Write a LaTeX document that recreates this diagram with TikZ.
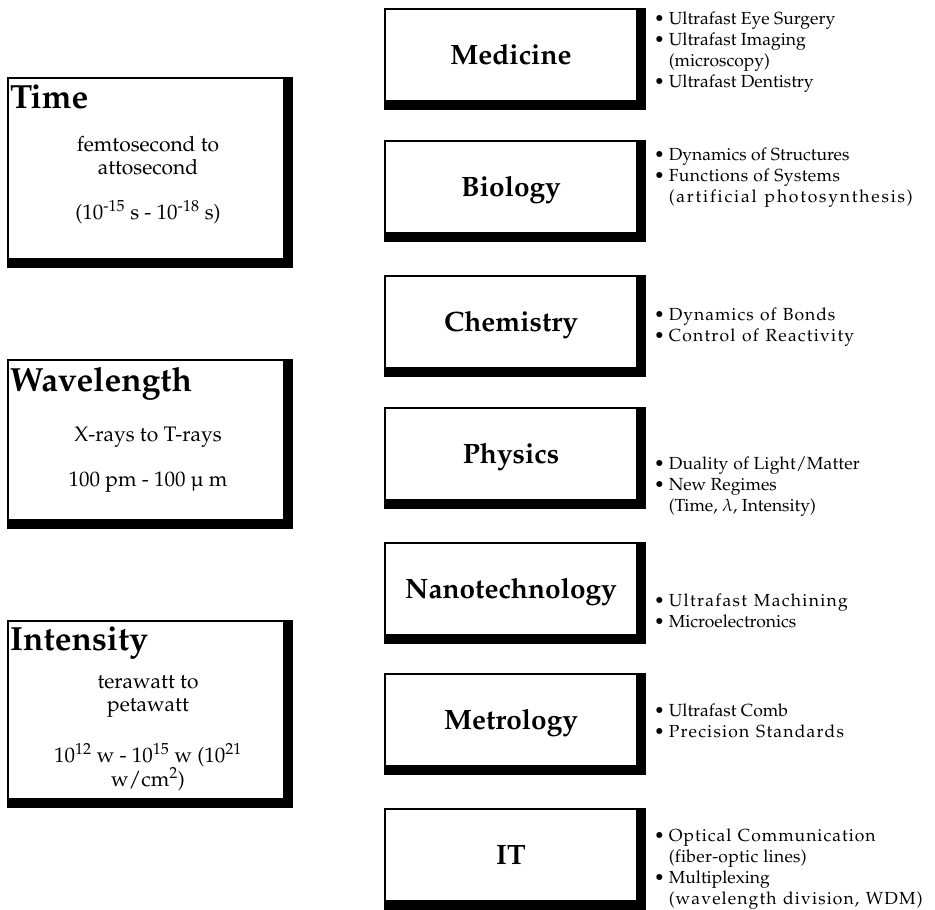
\documentclass[tikz,border=0pt]{standalone}
\usepackage[T1]{fontenc}
\usepackage{mathpazo}
\usetikzlibrary{calc}

\tikzset{
  fieldbox/.style={draw, line width=1.1pt, fill=white, minimum width=252pt,
    minimum height=92pt, inner sep=0pt,
    font=\fontsize{28}{32}\selectfont\bfseries, text height=24pt, text depth=6pt},
  rangebox/.style={draw, line width=1.1pt, fill=white, minimum width=276pt, inner sep=0pt},
  rangehead/.style={anchor=base west, inner sep=0pt, font=\fontsize{33.5}{36}\selectfont\bfseries},
  rangetext/.style={align=center, inner sep=0pt, font=\fontsize{21}{23}\selectfont},
  notes/.style={anchor=base west, inner sep=0pt, font=\fontsize{17.5}{21}\selectfont},
}
% heavy right and bottom edge behind a box
\newcommand\dropshadow[1]{%
  \fill (#1.north east) rectangle ([xshift=8pt,yshift=-8pt]#1.south east);
  \fill (#1.south west) rectangle ([xshift=8pt,yshift=-8pt]#1.south east);}
\newcommand\notelist[1]{\begin{tabular}[t]{@{}l@{\hspace{4pt}}l@{}}#1\end{tabular}}
% letter-spaced text: #1 extra space after each character, ~ marks a word space
\makeatletter
\newcommand\tracked[2]{\@tfor\trk@c:=#2\do{\trk@c\kern#1}\unkern}
\makeatother

\begin{document}
\begin{tikzpicture}[x=1pt,y=-1pt]
\useasboundingbox (0,0) rectangle (935,910);

% ---- left column: time, wavelength, intensity ----
\node[rangebox, minimum height=181pt] (time) at (146,168.5) {};
\dropshadow{time}
\node[rangehead] (timeh) at (10,108) {Time};
\node[rangetext] (timea) at (148,156) {femtosecond to\\attosecond};
\node[rangetext] (timeb) at (148,212) {(10\textsuperscript{-15} s - 10\textsuperscript{-18} s)};

\node[rangebox, minimum height=160pt] (wave) at (146,440) {};
\dropshadow{wave}
\node[rangehead] (waveh) at (10,391) {Wavelength};
\node[rangetext] (wavea) at (148,437) {X-rays to T-rays};
\node[rangetext] (waveb) at (148,482) {100 pm - 100 \textmu\ m};

\node[rangebox, minimum height=178pt] (inten) at (146,710) {};
\dropshadow{inten}
\node[rangehead] (intenh) at (10,650) {Intensity};
\node[rangetext] (intena) at (148,697) {terawatt to\\petawatt};
\node[rangetext] (intenb) at (148,767) {10\textsuperscript{12} w - 10\textsuperscript{15} w (10\textsuperscript{21}\\w/cm\textsuperscript{2})};

% ---- right column: fields of application ----
\node[fieldbox] (med) at (511,55) {Medicine};
\dropshadow{med}
\node[fieldbox] (bio) at (511,187) {Biology};
\dropshadow{bio}
\node[fieldbox] (chem) at (511,322) {Chemistry};
\dropshadow{chem}
\node[fieldbox] (phys) at (511,454) {Physics};
\dropshadow{phys}
\node[fieldbox] (nano) at (511,589) {Nanotechnology};
\dropshadow{nano}
\node[fieldbox] (metro) at (511,720) {Metrology};
\dropshadow{metro}
\node[fieldbox] (it) at (511,855) {IT};
\dropshadow{it}

% ---- notes beside each field ----
\node[notes] (medn) at (654,24) {\notelist{%
  \textbullet & Ultrafast Eye Surgery\\
  \textbullet & Ultrafast Imaging\\
              & (microscopy)\\
  \textbullet & Ultrafast Dentistry}};
\node[notes] (bion) at (654,160) {\notelist{%
  \textbullet & Dynamics of Structures\\
  \textbullet & \tracked{0.4pt}{Functions~of~Systems}\\
              & \tracked{1.8pt}{(artificial~photosynthesis)}}};
\node[notes] (chemn) at (654,320) {\notelist{%
  \textbullet & \tracked{1pt}{Dynamics~of~Bonds}\\
  \textbullet & \tracked{1.2pt}{Control~of~Reactivity}}};
\node[notes] (physn) at (654,469) {\notelist{%
  \textbullet & \tracked{0.2pt}{Duality~of~Light/Matter}\\
  \textbullet & New Regimes\\
              & (Time, $\lambda$, Intensity)}};
\node[notes] (nanon) at (654,606) {\notelist{%
  \textbullet & \tracked{1.3pt}{Ultrafast~Machining}\\
  \textbullet & Microelectronics}};
\node[notes] (metron) at (654,716) {\notelist{%
  \textbullet & Ultrafast Comb\\
  \textbullet & \tracked{1.2pt}{Precision~Standards}}};
\node[notes] (itn) at (654,841) {\notelist{%
  \textbullet & \tracked{1pt}{Optical~Communication}\\
              & \tracked{0.3pt}{(fiber-optic~lines)}\\
  \textbullet & Multiplexing\\
              & \tracked{1.1pt}{(wavelength~division,~WDM)}}};
\end{tikzpicture}
\end{document}
